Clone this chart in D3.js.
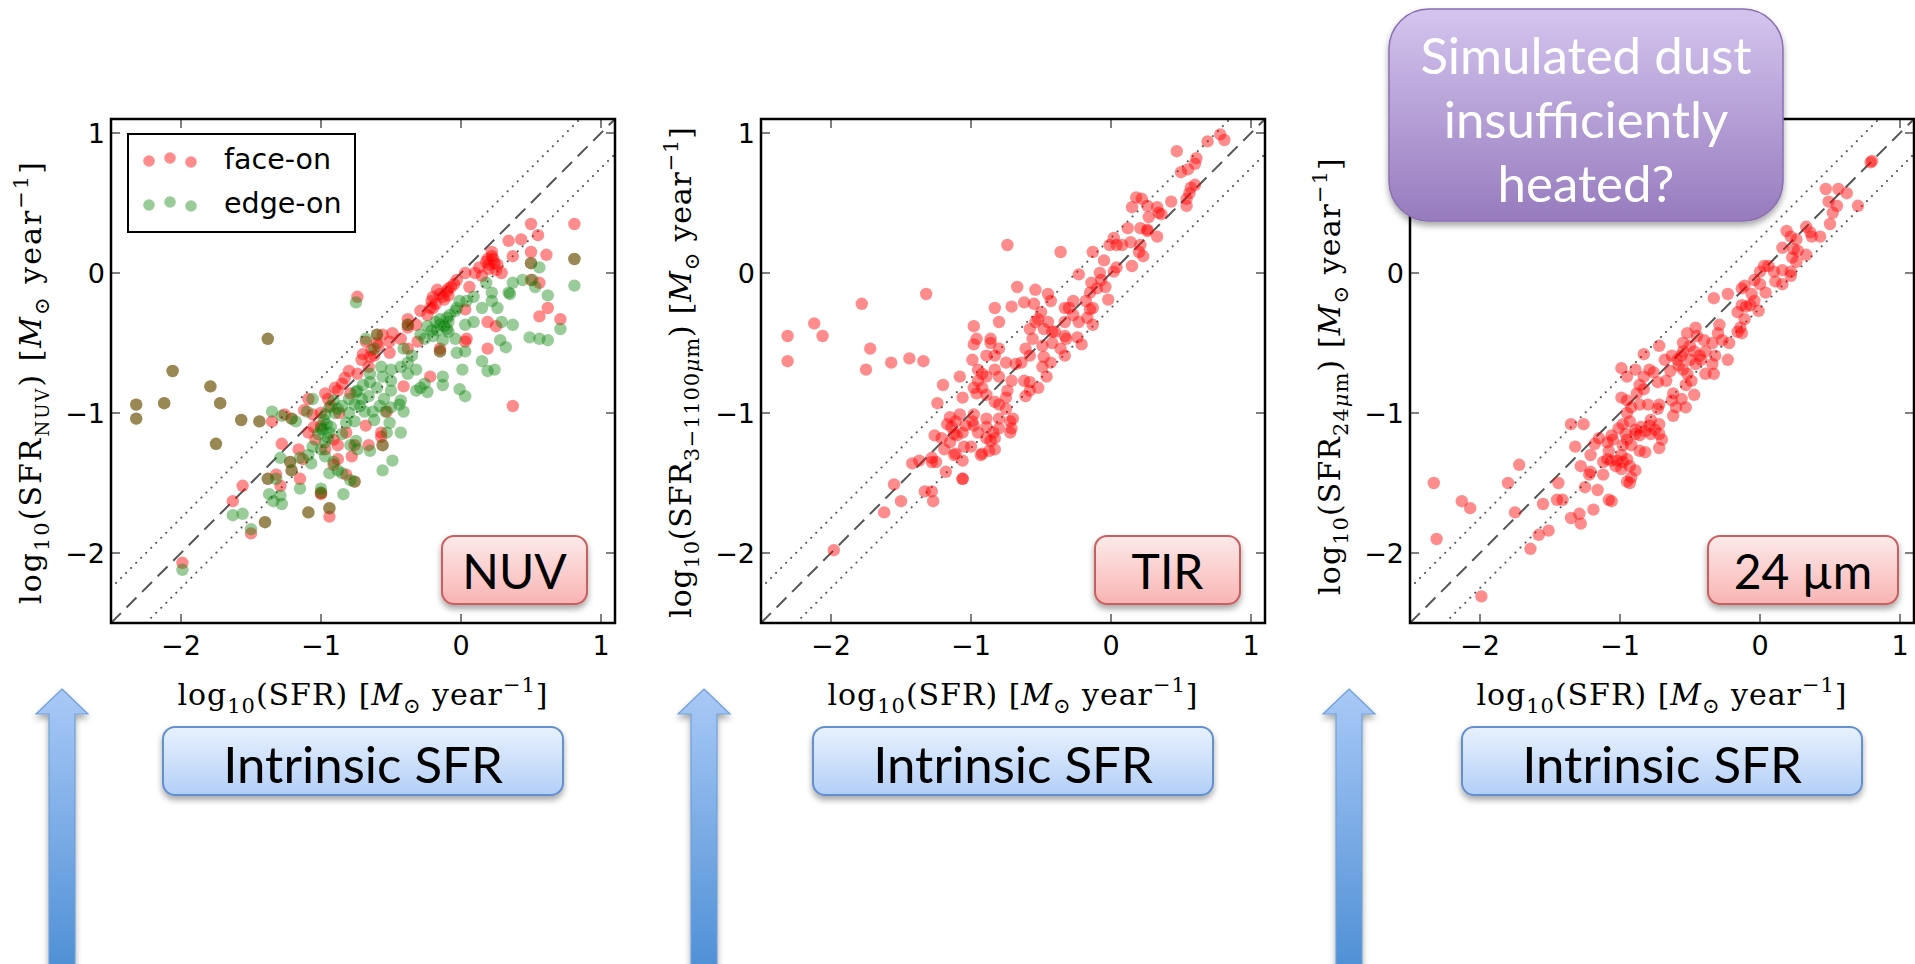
<!DOCTYPE html>
<html>
<head>
<meta charset="utf-8">
<script src="https://cdn.jsdelivr.net/npm/d3@7"></script>
<style>
  body { margin: 0; background: #fff; }
  svg { display: block; }
</style>
</head>
<body>
<script>
// axis ticks and range, shared by the three panels
const ticks = [-2, -1, 0, 1];
const domain = [-2.5, 1.1];
const band = 0.25; // offset of the dotted lines

// NUV panel, face-on galaxies [log SFR, log SFR_NUV]
const nuvFaceOn = [
  [0.5,0.35],[0.81,0.35],[0.55,0.27],[0.34,0.23],[0.43,0.24],[0.5,0.15],[0.61,0.13],[0.22,0.15],[0.24,0.07],[0.13,0.04],
  [0.19,0.1],[0.25,0.02],[0.37,0.12],[0.03,0.0],[0.06,-0.1],[-0.09,-0.11],[-0.15,-0.15],[-0.12,-0.19],[-0.21,-0.2],[-0.03,-0.05],
  [-0.07,-0.1],[-0.09,-0.16],[0.15,-0.02],[0.29,0.0],[0.56,-0.07],[0.5,-0.05],[0.62,-0.25],[0.56,-0.31],[0.71,-0.33],[0.19,-0.35],
  [0.25,-0.38],[0.19,-0.54],[0.03,-0.26],[-0.29,-0.27],[-0.38,-0.33],[-0.32,-0.37],[-0.24,-0.3],[-0.15,-0.54],[0.03,-0.49],[0.04,-0.47],
  [0.37,-0.95],[-0.74,-0.17],[-0.49,-0.43],[-0.43,-0.47],[-0.56,-0.44],[-0.59,-0.52],[-0.68,-0.49],[-0.51,-0.57],[-0.62,-0.59],[-0.71,-0.62],
  [-0.66,-0.67],[-0.74,-0.72],[-0.31,-0.49],[-0.22,-0.74],[-0.38,-0.54],[-0.41,-0.81],[-0.85,-0.79],[-0.88,-0.84],[-0.97,-0.86],[-0.79,-0.86],
  [-1.09,-0.9],[-1.12,-0.98],[-1.06,-1.01],[-1.0,-1.09],[-1.09,-1.14],[-1.04,-1.19],[-0.91,-1.19],[-0.82,-1.14],[-0.68,-1.09],[-0.66,-1.23],
  [-0.57,-1.17],[-0.56,-1.23],[-0.57,-1.14],[-0.53,-0.99],[-1.26,-1.01],[-1.35,-1.06],[-1.16,-1.26],[-1.28,-1.22],[-1.13,-1.33],[-1.15,-1.47],
  [-1.29,-1.52],[-1.32,-1.44],[-0.82,-1.44],[-0.91,-1.37],[-0.88,-1.33],[-1.0,-1.58],[-0.94,-1.68],[-0.94,-1.74],[-1.56,-1.52],[-1.63,-1.63],
  [-1.5,-1.86],[-1.99,-2.07],[-0.76,-1.23],[-0.88,-1.23],[-0.97,-1.26],[-0.78,-1.31],[-0.38,-0.39],[-0.51,-0.49],[-0.18,-0.22],[-0.13,-0.17],
  [-0.1,-0.13],[-0.2,-0.25],[-0.05,-0.08],[0.2,0.06],[0.22,0.12],[-0.6,-0.5],[-0.64,-0.55],[-0.8,-0.7],[-0.83,-0.75],[-0.9,-0.82],
  [-0.95,-0.9],[0.18,0.08],[0.2,0.03],[0.23,0.1],[0.26,0.06],[0.1,0.0],[-0.2,-0.17],[-0.17,-0.12],[-0.22,-0.25],[-0.65,-0.6],
  [-0.7,-0.58],[-0.93,-0.95],[-1.0,-1.0],[-0.87,-1.0],[-1.05,-1.1],
  [0.81,0.1],[0.5,0.07],[-0.15,-0.56],[-0.38,-0.37],[-0.6,-0.44],[-1.21,-1.41],[-1.22,-1.35],[-1.0,-1.57],[-1.09,-1.71],
  [-0.76,-1.49],[-1.38,-1.47],[-1.4,-1.78],[-1.21,-1.04],[-1.44,-1.06],[-1.57,-1.05],[-1.75,-1.22],[-1.72,-0.93],[-1.79,-0.81],[-2.06,-0.7],
  [-2.12,-0.93],[-2.32,-0.94],[-2.32,-1.04],[-1.38,-0.47]
];

// NUV panel, edge-on galaxies
const nuvEdgeOn = [
  [0.81,-0.09],[0.56,0.04],[0.44,-0.05],[0.51,-0.05],[0.53,-0.1],[0.37,-0.07],[0.35,-0.15],[0.37,-0.37],[0.62,-0.16],[0.71,-0.4],
  [0.62,-0.48],[0.56,-0.47],[0.49,-0.46],[0.32,-0.53],[0.28,-0.48],[0.24,-0.69],[0.19,-0.7],[0.15,-0.63],[0.29,-0.35],[0.26,-0.25],
  [0.22,-0.2],[0.22,-0.14],[0.18,-0.07],[0.34,-0.14],[0.15,-0.25],[0.09,-0.35],[0.03,-0.37],[0.04,-0.2],[-0.01,-0.2],[0.09,-0.17],
  [-0.04,-0.27],[-0.1,-0.32],[-0.15,-0.37],[-0.09,-0.42],[-0.04,-0.47],[-0.03,-0.57],[0.03,-0.56],[-0.21,-0.41],[-0.18,-0.35],[-0.24,-0.38],
  [-0.29,-0.44],[-0.26,-0.47],[-0.13,-0.48],[0.01,-0.69],[-0.01,-0.83],[0.03,-0.88],[-0.13,-0.74],[-0.13,-0.8],[-0.32,-0.69],[-0.38,-0.72],
  [-0.26,-0.79],[-0.32,-0.84],[-0.24,-0.85],[-0.29,-0.82],[-0.38,-0.64],[-0.35,-0.59],[-0.43,-0.67],[-0.5,-0.69],[-0.56,-0.74],[-0.5,-0.77],
  [-0.03,-0.25],[-0.09,-0.35],[-0.41,-0.54],[-0.68,-0.47],[-0.62,-0.54],[-0.57,-0.67],[-0.65,-0.72],[-0.5,-0.84],[-0.43,-0.91],[-0.41,-0.99],
  [-0.44,-0.94],[-0.5,-0.96],[-0.54,-0.99],[-0.63,-0.99],[-0.62,-1.05],[-0.51,-1.07],[-0.53,-1.14],[-0.43,-1.14],[-0.56,-1.23],[-0.49,-1.34],
  [-0.56,-1.41],[-0.65,-1.27],[-0.74,-1.26],[-0.79,-1.23],[-0.76,-0.94],[-0.71,-0.9],[-0.74,-0.84],[-0.69,-0.99],[-0.76,-1.06],[-0.82,-1.07],
  [-0.91,-0.91],[-0.94,-0.96],[-0.97,-1.01],[-1.0,-1.11],[-0.94,-1.14],[-0.97,-1.21],[-1.0,-1.26],[-0.97,-1.31],[-0.91,-1.35],[-0.88,-1.41],
  [-0.94,-1.43],[-0.85,-1.43],[-0.79,-1.48],[-1.06,-1.24],[-1.09,-1.3],[-1.07,-1.36],[-1.15,-1.32],[-1.1,-0.99],[-1.06,-0.9],[-1.18,-1.06],
  [-1.29,-1.32],[-1.32,-1.47],[-1.29,-1.59],[-1.28,-1.65],[-1.15,-1.54],[-1.0,-1.54],[-0.94,-1.68],[-0.84,-1.58],[-1.37,-1.58],[-1.34,-1.63],
  [-1.5,-1.83],[-1.56,-1.72],[-1.63,-1.73],[-1.99,-2.12],[-1.35,-0.99],[-1.28,-1.02],[-0.75,-0.21],
  [-0.98,-1.05],[-0.96,-1.08],[-0.99,-1.12],[-0.93,-1.1],[-1.02,-1.15],[-0.95,-1.18],[-0.9,-1.0],[-0.88,-0.97],[-0.85,-0.95],[-0.8,-0.9],
  [-0.75,-0.85],[-0.7,-0.8],[-0.65,-0.78],[-0.6,-0.82],[-0.55,-0.9],[-0.58,-0.95],[-0.66,-0.88],[-0.72,-0.95],[-0.8,-1.0],[-0.85,-1.15],
  [-0.75,-1.2],[-0.15,-0.33],[-0.12,-0.38],[-0.17,-0.41],[-0.1,-0.4],[-0.2,-0.45],[-0.08,-0.3],
  [0.81,0.1],[0.5,0.07],[-0.15,-0.56],[-0.38,-0.37],[-0.6,-0.44],[-1.21,-1.41],[-1.22,-1.35],[-1.0,-1.57],[-1.09,-1.71],[-0.76,-1.49],
  [-1.38,-1.47],[-1.4,-1.78],[-1.21,-1.04],[-1.44,-1.06],[-1.57,-1.05],[-1.75,-1.22],[-1.72,-0.93],[-1.79,-0.81],[-2.06,-0.7],[-2.12,-0.93],
  [-2.32,-0.94],[-2.32,-1.04],[-1.38,-0.47]
];

// TIR panel [log SFR, log SFR_3-1100um]
const tirFaceOn = [
  [0.78,0.99],[0.81,0.95],[0.69,0.94],[0.47,0.87],[0.61,0.82],[0.6,0.78],[0.55,0.74],[0.5,0.72],[0.6,0.63],[0.57,0.61],
  [0.56,0.57],[0.54,0.53],[0.43,0.51],[0.54,0.48],[0.18,0.54],[0.22,0.53],[0.15,0.47],[0.26,0.48],[0.33,0.47],[0.36,0.42],
  [0.34,0.43],[0.27,0.4],[0.26,0.31],[0.21,0.32],[0.12,0.32],[0.33,0.26],[0.26,0.3],[0.21,0.2],[0.14,0.22],[0.2,0.15],
  [0.23,0.12],[0.02,0.25],[0.04,0.2],[0.08,0.2],[-0.01,0.2],[-0.13,0.15],[-0.05,0.09],[0.04,0.04],[0.02,0.01],[0.15,0.05],
  [-0.23,-0.01],[-0.08,0.0],[-0.07,-0.05],[-0.14,-0.07],[-0.1,-0.11],[-0.04,-0.1],[-0.15,-0.14],[-0.02,-0.19],[-0.18,-0.2],[-0.27,-0.2],
  [-0.3,-0.25],[-0.13,-0.25],[-0.15,-0.26],[-0.27,-0.3],[-0.17,-0.32],[-0.13,-0.37],[-0.23,-0.35],[-0.36,0.15],[-0.43,-0.2],[-0.54,-0.12],
  [-0.67,-0.1],[-0.74,0.2],[-0.62,-0.21],[-0.55,-0.22],[-0.71,-0.24],[-0.83,-0.25],[-0.8,-0.35],[-0.98,-0.38],[-1.32,-0.15],[-1.78,-0.22],
  [-2.12,-0.36],[-2.06,-0.45],[-2.31,-0.45],[-2.31,-0.63],[-1.72,-0.54],[-1.75,-0.69],[-1.57,-0.64],[-1.44,-0.61],[-1.34,-0.63],[-0.33,-0.25],
  [-0.33,-0.35],[-0.45,-0.35],[-0.54,-0.35],[-0.58,-0.4],[-0.48,-0.4],[-0.42,-0.42],[-0.33,-0.45],[-0.24,-0.46],[-0.21,-0.51],[-0.32,-0.47],
  [-0.36,-0.54],[-0.33,-0.59],[-0.42,-0.5],[-0.49,-0.52],[-0.56,-0.47],[-0.61,-0.54],[-0.58,-0.59],[-0.64,-0.64],[-0.68,-0.65],[-0.48,-0.6],
  [-0.49,-0.67],[-0.43,-0.64],[-0.46,-0.74],[-0.52,-0.82],[-0.58,-0.78],[-0.62,-0.77],[-0.58,-0.84],[-0.61,-0.88],[-0.71,-0.77],[-0.74,-0.84],
  [-0.75,-0.89],[-0.8,-0.74],[-0.83,-0.69],[-0.89,-0.74],[-0.92,-0.72],[-0.95,-0.69],[-0.86,-0.47],[-0.86,-0.5],[-0.8,-0.54],[-0.75,-0.64],
  [-0.83,-0.59],[-0.89,-0.59],[-0.96,-0.47],[-0.98,-0.51],[-0.99,-0.62],[-0.95,-0.77],[-0.98,-0.82],[-0.92,-0.82],[-1.08,-0.74],[-1.2,-0.8],
  [-1.24,-0.93],[-1.06,-0.89],[-0.96,-0.86],[-0.89,-0.87],[-0.83,-0.92],[-0.8,-0.94],[-0.75,-0.97],[-0.7,-1.04],[-0.72,-1.06],[-0.8,-1.04],
  [-0.8,-1.11],[-0.72,-1.14],[-0.71,-1.11],[-0.84,-1.14],[-0.89,-1.1],[-0.89,-1.04],[-0.98,-1.01],[-0.99,-1.06],[-1.04,-1.09],[-0.98,-1.09],
  [-0.95,-1.14],[-0.89,-1.18],[-0.86,-1.2],[-0.83,-1.18],[-0.83,-1.26],[-0.87,-1.27],[-0.93,-1.3],[-0.92,-1.29],[-1.0,-1.24],[-1.05,-1.24],
  [-1.06,-1.14],[-1.08,-1.01],[-1.11,-1.06],[-1.15,-1.03],[-1.14,-1.1],[-1.17,-1.08],[-1.12,-1.15],[-1.1,-1.16],[-1.15,-1.21],[-1.21,-1.18],
  [-1.19,-1.26],[-1.11,-1.29],[-1.06,-1.34],[-1.12,-1.3],[-1.26,-1.16],[-1.25,-1.35],[-1.28,-1.32],[-1.37,-1.34],[-1.42,-1.36],[-1.28,-1.35],
  [-1.18,-1.42],[-1.06,-1.47],[-1.06,-1.47],[-1.28,-1.56],[-1.27,-1.63],[-1.33,-1.56],[-1.55,-1.51],[-1.5,-1.63],[-1.62,-1.71],[-1.98,-1.98],
  [-0.45,-0.15],[-0.5,-0.28],[-0.52,-0.33],[-0.4,-0.42]
];

// 24 micron panel [log SFR, log SFR_24um]
const mipsFaceOn = [
  [0.8,0.8],[0.79,0.79],[0.47,0.6],[0.56,0.6],[0.62,0.57],[0.49,0.51],[0.55,0.48],[0.52,0.43],[0.5,0.35],[0.7,0.48],
  [0.19,0.3],[0.33,0.33],[0.36,0.29],[0.37,0.26],[0.43,0.26],[0.26,0.24],[0.22,0.26],[0.16,0.18],[0.24,0.17],[0.27,0.16],
  [0.23,0.11],[0.33,0.13],[0.26,0.08],[0.03,0.05],[0.06,0.05],[0.1,0.01],[0.0,0.01],[0.16,0.02],[0.22,0.01],[0.22,-0.02],
  [0.11,-0.06],[-0.04,-0.05],[0.0,-0.08],[0.16,-0.08],[0.04,-0.14],[-0.06,-0.15],[-0.04,-0.2],[-0.13,-0.11],[-0.23,-0.15],[-0.33,-0.18],
  [-0.07,-0.23],[-0.1,-0.24],[-0.13,-0.23],[-0.16,-0.28],[-0.01,-0.27],[-0.11,-0.33],[-0.14,-0.39],[-0.13,-0.43],[-0.16,-0.42],[-0.22,-0.5],
  [-0.23,-0.62],[-0.29,-0.37],[-0.3,-0.43],[-0.27,-0.48],[-0.34,-0.5],[-0.32,-0.59],[-0.39,-0.56],[-0.34,-0.65],[-0.42,-0.62],[-0.39,-0.72],
  [-0.33,-0.72],[-0.46,-0.39],[-0.45,-0.45],[-0.52,-0.43],[-0.55,-0.5],[-0.55,-0.56],[-0.56,-0.59],[-0.5,-0.62],[-0.47,-0.56],[-0.43,-0.59],
  [-0.46,-0.65],[-0.63,-0.59],[-0.59,-0.62],[-0.68,-0.62],[-0.72,-0.52],[-0.83,-0.58],[-0.55,-0.69],[-0.52,-0.72],[-0.53,-0.8],[-0.49,-0.77],
  [-0.47,-0.87],[-0.56,-0.9],[-0.62,-0.86],[-0.63,-0.91],[-0.6,-0.96],[-0.53,-0.96],[-0.62,-1.02],[-0.67,-0.77],[-0.73,-0.78],[-0.76,-0.71],
  [-0.79,-0.69],[-0.86,-0.8],[-0.83,-0.83],[-0.88,-0.86],[-0.72,-0.94],[-0.73,-0.97],[-0.8,-0.94],[-0.86,-0.94],[-0.92,-0.96],[-0.95,-0.91],
  [-0.99,-0.89],[-0.99,-0.68],[-0.95,-0.74],[-0.89,-0.69],[-0.83,-0.74],[-0.78,-1.05],[-0.72,-1.08],[-0.75,-1.12],[-0.79,-1.09],[-0.82,-1.13],
  [-0.72,-1.15],[-0.7,-1.19],[-0.72,-1.25],[-0.78,-1.15],[-0.85,-1.1],[-0.89,-1.12],[-0.86,-1.16],[-0.82,-1.28],[-0.86,-1.27],[-0.95,-1.0],
  [-0.93,-1.06],[-0.98,-1.08],[-0.96,-1.15],[-0.95,-1.19],[-0.92,-1.23],[-0.89,-1.15],[-1.01,-1.11],[-0.98,-1.23],[-0.99,-1.3],[-0.95,-1.33],
  [-0.98,-1.35],[-1.02,-1.34],[-1.03,-1.38],[-0.99,-1.4],[-0.93,-1.38],[-0.89,-1.41],[-0.92,-1.46],[-0.93,-1.5],[-0.95,-1.49],[-1.09,-1.33],
  [-1.08,-1.27],[-1.09,-1.21],[-1.05,-1.19],[-1.06,-1.16],[-1.15,-1.18],[-1.18,-1.22],[-1.12,-1.35],[-1.06,-1.34],[-1.21,-1.3],[-1.21,-1.42],
  [-1.22,-1.44],[-1.12,-1.44],[-1.06,-1.63],[-1.08,-1.62],[-1.32,-1.24],[-1.26,-1.08],[-1.35,-1.08],[-1.28,-1.38],[-1.25,-1.53],[-1.16,-1.55],
  [-1.19,-1.69],[-1.29,-1.72],[-1.35,-1.75],[-1.28,-1.79],[-1.41,-1.62],[-1.45,-1.62],[-1.44,-1.5],[-1.55,-1.65],[-1.58,-1.87],[-1.51,-1.84],
  [-1.64,-1.97],[-1.75,-1.71],[-1.72,-1.37],[-1.8,-1.5],[-2.13,-1.63],[-2.07,-1.68],[-2.33,-1.5],[-2.31,-1.9],[-1.99,-2.31],[-0.11,-0.09],
  [-0.5,-0.52],[-0.58,-0.66],[-0.64,-0.7],[-0.4,-0.48]
];

const panelTags = ["NUV", "TIR", "24 µm"];

// y label pieces: [text, kind]
const yLabelParts = [
  [["log"],["10","sub"],["(SFR"],["NUV","subsm"],[")  ["],["M","it"],["⊙","sub"],["  year"],["−1","sup"],["]"]],
  [["log"],["10","sub"],["(SFR"],["3−1100","sub"],["μ","subit"],["m","sub"],[")  ["],["M","it"],["⊙","sub"],["  year"],["−1","sup"],["]"]],
  [["log"],["10","sub"],["(SFR"],["24","sub"],["μ","subit"],["m","sub"],[")  ["],["M","it"],["⊙","sub"],["  year"],["−1","sup"],["]"]]
];
const xLabelParts = [["log"],["10","sub"],["(SFR)  ["],["M","it"],["⊙","sub"],["  year"],["−1","sup"],["]"]];

const W = 1915, H = 964;
const plotSize = 504;
const plotTop = 119;
const plotLefts = [111, 761, 1410];
const tagGaps = [28, 25, 16];
const tagWidths = [145, 145, 190];
const yLabelLen = [448, 493, 440];
const yLabelMid = [382, 372, 376];

const svg = d3.select("body").append("svg").attr("width", W).attr("height", H);
const defs = svg.append("defs");

function gradient(id, top, bottom) {
  const g = defs.append("linearGradient").attr("id", id).attr("x1", 0).attr("y1", 0).attr("x2", 0).attr("y2", 1);
  g.append("stop").attr("offset", "0%").attr("stop-color", top);
  g.append("stop").attr("offset", "100%").attr("stop-color", bottom);
}
gradient("gPink", "#fdeaea", "#f8b4b3");
gradient("gBlue", "#e8f1fd", "#b3cff8");
gradient("gPurple", "#d4c5ef", "#977bbe");
gradient("gArrow", "#a9c9f7", "#4e8fd5");

const shadow = defs.append("filter").attr("id", "shadow").attr("x", "-10%").attr("y", "-10%").attr("width", "120%").attr("height", "140%");
shadow.append("feDropShadow").attr("dx", 0).attr("dy", 4).attr("stdDeviation", 3).attr("flood-color", "#000").attr("flood-opacity", 0.35);

function richText(sel, parts, size) {
  const t = sel.append("text").attr("font-family", "'DejaVu Serif', serif").attr("font-size", size).attr("fill", "#000");
  let shift = 0;
  parts.forEach(([s, kind]) => {
    let target = 0;
    if (kind === "sub" || kind === "subit" || kind === "subsm") target = 0.28 * size;
    if (kind === "sup") target = -0.42 * size;
    const ts = t.append("tspan").attr("dy", target - shift).text(s);
    if (kind === "sub" || kind === "subit" || kind === "sup") ts.attr("font-size", size * 0.7);
    if (kind === "subsm") ts.attr("font-size", size * 0.6);
    if (kind === "it" || kind === "subit") ts.attr("font-style", "italic");
    shift = target;
  });
  return t;
}

// spread the glyphs a little so the label has the width of the TeX original
function fitWidth(t, target) {
  const w = t.node().getComputedTextLength();
  const n = t.text().length;
  t.attr("letter-spacing", Math.max(0, (target - w) / n));
}

const panels = [
  { series: [{ data: nuvFaceOn, color: "#ff0000", op: 0.45 }, { data: nuvEdgeOn, color: "#008000", op: 0.4 }] },
  { series: [{ data: tirFaceOn, color: "#ff0000", op: 0.45 }] },
  { series: [{ data: mipsFaceOn, color: "#ff0000", op: 0.45 }] }
];

panels.forEach((p, i) => {
  const left = plotLefts[i];
  const x = d3.scaleLinear().domain(domain).range([left, left + plotSize]);
  const y = d3.scaleLinear().domain(domain).range([plotTop + plotSize, plotTop]);
  const g = svg.append("g");

  defs.append("clipPath").attr("id", "clip" + i)
    .append("rect").attr("x", left).attr("y", plotTop).attr("width", plotSize).attr("height", plotSize);

  const inner = g.append("g").attr("clip-path", `url(#clip${i})`);

  // one-to-one line and the +-0.25 dex band
  const line = d3.line().x(d => x(d)).y(d => y(d));
  inner.append("path").datum(domain).attr("d", line)
    .attr("fill", "none").attr("stroke", "#555").attr("stroke-width", 2).attr("stroke-dasharray", "14,8");
  [band, -band].forEach(off => {
    inner.append("path").datum(domain)
      .attr("d", d3.line().x(d => x(d)).y(d => y(d + off)))
      .attr("fill", "none").attr("stroke", "#555").attr("stroke-width", 2)
      .attr("stroke-linecap", "round").attr("stroke-dasharray", "0.1,7");
  });

  p.series.forEach(s => {
    inner.append("g").selectAll("circle").data(s.data).enter().append("circle")
      .attr("cx", d => x(d[0])).attr("cy", d => y(d[1])).attr("r", 6.2)
      .attr("fill", s.color).attr("fill-opacity", s.op);
  });

  // ticks on all four sides, pointing inwards
  const tk = g.append("g").attr("stroke", "#000").attr("stroke-width", 1);
  ticks.forEach(t => {
    tk.append("line").attr("x1", x(t)).attr("x2", x(t)).attr("y1", plotTop + plotSize).attr("y2", plotTop + plotSize - 9);
    tk.append("line").attr("x1", x(t)).attr("x2", x(t)).attr("y1", plotTop).attr("y2", plotTop + 9);
    tk.append("line").attr("y1", y(t)).attr("y2", y(t)).attr("x1", left).attr("x2", left + 9);
    tk.append("line").attr("y1", y(t)).attr("y2", y(t)).attr("x1", left + plotSize).attr("x2", left + plotSize - 9);
  });

  g.append("rect").attr("x", left).attr("y", plotTop).attr("width", plotSize).attr("height", plotSize)
    .attr("fill", "none").attr("stroke", "#000").attr("stroke-width", 2.5);

  const fmt = t => (t < 0 ? "−" : "") + Math.abs(t);
  g.append("g").selectAll("text").data(ticks).enter().append("text")
    .attr("x", d => x(d)).attr("y", plotTop + plotSize + 32)
    .attr("text-anchor", "middle").attr("font-family", "'DejaVu Sans', sans-serif").attr("font-size", 27)
    .text(fmt);
  g.append("g").selectAll("text").data(ticks).enter().append("text")
    .attr("x", left - 6).attr("y", d => y(d) + 10)
    .attr("text-anchor", "end").attr("font-family", "'DejaVu Sans', sans-serif").attr("font-size", 27)
    .text(fmt);

  // axis labels
  const xl = richText(g, xLabelParts, 30)
    .attr("x", left + plotSize / 2).attr("y", 705).attr("text-anchor", "middle");
  fitWidth(xl, 373);
  const yl = richText(g.append("g").attr("transform", `translate(${left - 70},${yLabelMid[i]}) rotate(-90)`), yLabelParts[i], 30)
    .attr("text-anchor", "middle");
  fitWidth(yl, yLabelLen[i]);

  // panel tag
  const tagW = tagWidths[i];
  const tagX = left + plotSize - tagGaps[i] - tagW;
  const tag = g.append("g").attr("filter", "url(#shadow)");
  tag.append("rect").attr("x", tagX).attr("y", 536).attr("width", tagW).attr("height", 68).attr("rx", 12)
    .attr("fill", "url(#gPink)").attr("stroke", "#c9605d").attr("stroke-width", 2);
  g.append("text").attr("x", tagX + tagW / 2).attr("y", 589).attr("text-anchor", "middle")
    .attr("font-family", "Lato, sans-serif").attr("font-size", 48).text(panelTags[i]);

  // "Intrinsic SFR" box under the x label
  const bx = left + plotSize / 2 - 200;
  const box = g.append("g").attr("filter", "url(#shadow)");
  box.append("rect").attr("x", bx).attr("y", 727).attr("width", 400).attr("height", 68).attr("rx", 12)
    .attr("fill", "url(#gBlue)").attr("stroke", "#6391d0").attr("stroke-width", 2);
  g.append("text").attr("x", bx + 200).attr("y", 783).attr("text-anchor", "middle")
    .attr("font-family", "Lato, sans-serif").attr("font-size", 51).text("Intrinsic SFR");
});

// legend in the first panel
const legend = svg.append("g");
legend.append("rect").attr("x", 128).attr("y", 134).attr("width", 227).attr("height", 98)
  .attr("fill", "#fff").attr("stroke", "#000").attr("stroke-width", 2);
const legendRows = [
  { label: "face-on", color: "#ff0000", op: 0.45, y: 160 },
  { label: "edge-on", color: "#008000", op: 0.4, y: 204 }
];
const legendOffsets = [1, -2, 2];
legendRows.forEach(r => {
  legendOffsets.forEach((o, k) => {
    legend.append("circle").attr("cx", 149 + k * 21).attr("cy", r.y + o).attr("r", 5.8)
      .attr("fill", r.color).attr("fill-opacity", r.op);
  });
  legend.append("text").attr("x", 224).attr("y", r.y + 9)
    .attr("font-family", "'DejaVu Sans', sans-serif").attr("font-size", 28.5).text(r.label);
});

// blue arrows on the left of each panel
const arrowXs = [62, 704, 1349];
arrowXs.forEach(cx => {
  const pts = [[cx, 689], [cx + 26, 714], [cx + 13, 714], [cx + 13, 970], [cx - 13, 970], [cx - 13, 714], [cx - 26, 714]];
  svg.append("polygon").attr("points", pts.map(p => p.join(",")).join(" "))
    .attr("fill", "url(#gArrow)").attr("stroke", "#6f9fd8").attr("stroke-width", 1.2)
    .attr("filter", "url(#shadow)");
});

// callout over the third panel
const call = svg.append("g");
call.append("rect").attr("x", 1389).attr("y", 9).attr("width", 394).attr("height", 212).attr("rx", 40)
  .attr("fill", "url(#gPurple)").attr("stroke", "#8a6fb2").attr("stroke-width", 1.5).attr("filter", "url(#shadow)");
const callLines = ["Simulated dust", "insufficiently", "heated?"];
call.selectAll("text.c").data(callLines).enter().append("text")
  .attr("x", 1586).attr("y", (d, k) => 74 + k * 64).attr("text-anchor", "middle")
  .attr("font-family", "Lato, sans-serif").attr("font-size", 51).attr("fill", "#fff").text(d => d);
</script>
</body>
</html>
